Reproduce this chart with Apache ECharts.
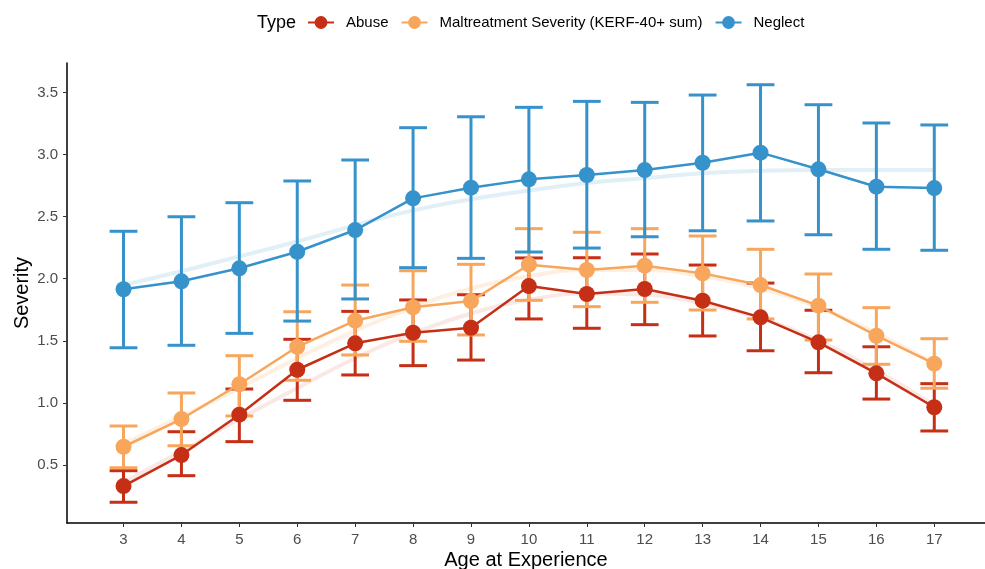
<!DOCTYPE html>
<html>
<head>
<meta charset="utf-8">
<script src="https://cdn.jsdelivr.net/npm/echarts@6/dist/echarts.min.js"></script>
<style>
html,body{margin:0;padding:0;background:#fff;}
#chart{width:985px;height:569px;}
</style>
</head>
<body>
<div id="chart"></div>
<script>
// ---- data ----
const ages = [3,4,5,6,7,8,9,10,11,12,13,14,15,16,17];
const yTicks = [0.5,1.0,1.5,2.0,2.5,3.0,3.5];

const abuseMean  = [0.33,0.58,0.905,1.267,1.48,1.565,1.605,1.941,1.877,1.917,1.823,1.689,1.488,1.238,0.965];
const abuseLow   = [0.20,0.414,0.688,1.021,1.225,1.30,1.345,1.676,1.601,1.630,1.539,1.420,1.243,1.031,0.774];
const abuseHigh  = [0.454,0.768,1.112,1.512,1.737,1.829,1.871,2.167,2.169,2.199,2.110,1.965,1.746,1.452,1.155];
const abuseSmooth = [0.36,0.61,0.87,1.12,1.36,1.56,1.72,1.83,1.88,1.87,1.80,1.68,1.50,1.26,0.98];

const maltMean   = [0.647,0.870,1.150,1.452,1.662,1.770,1.820,2.113,2.070,2.105,2.043,1.949,1.783,1.541,1.316];
const maltLow    = [0.478,0.655,0.895,1.182,1.386,1.496,1.547,1.826,1.775,1.810,1.748,1.676,1.506,1.311,1.118];
const maltHigh   = [0.814,1.080,1.380,1.734,1.949,2.064,2.116,2.403,2.374,2.403,2.344,2.237,2.038,1.767,1.517];
const maltSmooth = [0.67,0.89,1.12,1.36,1.58,1.77,1.92,2.02,2.07,2.07,2.02,1.92,1.77,1.56,1.32];

const neglMean   = [1.915,1.979,2.084,2.217,2.392,2.647,2.733,2.800,2.835,2.875,2.934,3.015,2.881,2.741,2.730];
const neglLow    = [1.444,1.464,1.560,1.659,1.837,2.089,2.164,2.215,2.247,2.338,2.386,2.465,2.354,2.237,2.229];
const neglHigh   = [2.382,2.499,2.612,2.787,2.956,3.216,3.304,3.380,3.428,3.420,3.479,3.562,3.401,3.254,3.238];
const neglSmooth = [1.95,2.06,2.18,2.30,2.43,2.55,2.64,2.71,2.77,2.81,2.85,2.87,2.875,2.875,2.875];

const seriesNames = ['Abuse','Maltreatment Severity (KERF-40+ sum)','Neglect'];
const colors = ['#c42f16','#f7a65b','#3592cb'];
const smoothColors = ['rgba(196,47,22,0.11)','rgba(247,166,91,0.18)','rgba(53,146,203,0.15)'];

// ---- build ----
const groups = [
  {mean: abuseMean, low: abuseLow, high: abuseHigh, smooth: abuseSmooth},
  {mean: maltMean, low: maltLow, high: maltHigh, smooth: maltSmooth},
  {mean: neglMean, low: neglLow, high: neglHigh, smooth: neglSmooth}
];

const series = [];
groups.forEach((g, i) => {
  series.push({
    name: seriesNames[i] + ' smooth',
    type: 'line',
    smooth: true,
    symbol: 'none',
    silent: true,
    z: 1,
    lineStyle: {color: smoothColors[i], width: 4},
    data: ages.map((a, k) => [a, g.smooth[k]])
  });
});
groups.forEach((g, i) => {
  series.push({
    name: seriesNames[i] + ' err',
    type: 'custom',
    z: 2,
    silent: true,
    renderItem: function (params, api) {
      const x = api.value(0);
      const lo = api.coord([x, api.value(1)]);
      const hi = api.coord([x, api.value(2)]);
      const hw = api.size([0.24, 0])[0];
      const st = {stroke: colors[i], lineWidth: 3};
      return {
        type: 'group',
        children: [
          {type: 'line', shape: {x1: lo[0], y1: lo[1], x2: hi[0], y2: hi[1]}, style: st},
          {type: 'line', shape: {x1: lo[0]-hw, y1: lo[1], x2: lo[0]+hw, y2: lo[1]}, style: st},
          {type: 'line', shape: {x1: hi[0]-hw, y1: hi[1], x2: hi[0]+hw, y2: hi[1]}, style: st}
        ]
      };
    },
    data: ages.map((a, k) => [a, g.low[k], g.high[k]])
  });
});
groups.forEach((g, i) => {
  series.push({
    name: seriesNames[i],
    type: 'line',
    z: 3,
    symbol: 'circle',
    symbolSize: 16,
    itemStyle: {color: colors[i]},
    lineStyle: {color: colors[i], width: 2.5},
    data: ages.map((a, k) => [a, g.mean[k]])
  });
});

const chart = echarts.init(document.getElementById('chart'), null, {renderer: 'canvas'});
chart.setOption({
  animation: false,
  textStyle: {fontFamily: 'Liberation Sans, Arial, sans-serif'},
  title: {
    text: 'Type',
    left: 252, top: 9,
    textStyle: {fontSize: 18, fontWeight: 'normal', color: '#000', fontFamily: 'Liberation Sans'}
  },
  legend: {
    data: seriesNames,
    left: 302, top: 10,
    itemWidth: 26, itemHeight: 16,
    itemGap: 12,
    textStyle: {fontSize: 15, color: '#000', fontFamily: 'Liberation Sans', padding: [0,0,0,7]}
  },
  grid: {left: 67, right: 0, top: 63, bottom: 46, containLabel: false, outerBoundsMode: 'none'},
  xAxis: {
    type: 'value',
    min: 2.024, max: 17.876,
    name: 'Age at Experience',
    nameLocation: 'middle',
    nameGap: 27,
    nameMoveOverlap: false,
    nameTextStyle: {fontSize: 20, color: '#000', fontFamily: 'Liberation Sans'},
    axisLine: {show: true, lineStyle: {color: '#000', width: 1.5}},
    axisTick: {show: true, customValues: ages, length: 4, lineStyle: {color: '#333'}},
    axisLabel: {customValues: ages, fontSize: 15, color: '#4d4d4d', margin: 9},
    splitLine: {show: false}
  },
  yAxis: {
    type: 'value',
    min: 0.033, max: 3.737,
    name: 'Severity',
    nameLocation: 'middle',
    nameGap: 35,
    nameMoveOverlap: false,
    nameRotate: 90,
    nameTextStyle: {fontSize: 20, color: '#000', fontFamily: 'Liberation Sans'},
    axisLine: {show: true, lineStyle: {color: '#000', width: 1.5}},
    axisTick: {show: true, customValues: yTicks, length: 4, lineStyle: {color: '#333'}},
    axisLabel: {customValues: yTicks, fontSize: 15, color: '#4d4d4d', margin: 9,
      formatter: v => v.toFixed(1)},
    splitLine: {show: false}
  },
  series: series
});
</script>
</body>
</html>
